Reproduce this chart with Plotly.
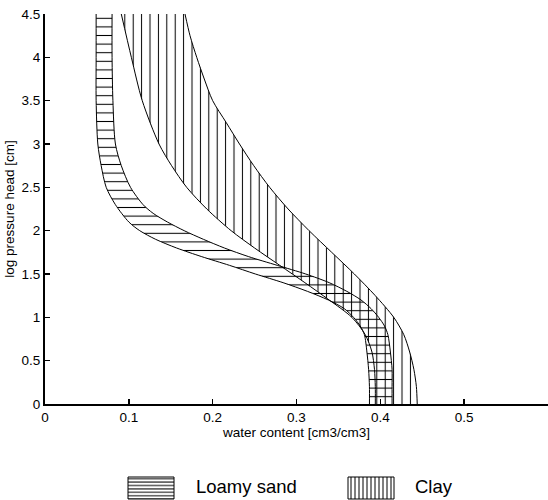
import plotly.graph_objects as go

# ---------------- data ----------------
# Loamy sand band: log pressure head vs water content
ls_left_logh = [4.5, 4.0, 3.5, 3.0, 2.75, 2.5, 2.3, 2.1, 2.0, 1.9, 1.8, 1.7, 1.6,
                1.5, 1.4, 1.3, 1.2, 1.1, 1.0, 0.9, 0.8, 0.6, 0.4, 0.2, 0.0]
ls_left_theta = [0.061, 0.061, 0.061, 0.063, 0.067, 0.073, 0.084, 0.100, 0.113, 0.132,
                 0.157, 0.187, 0.220, 0.251, 0.284, 0.313, 0.338, 0.357, 0.368, 0.376,
                 0.381, 0.384, 0.386, 0.387, 0.387]

ls_right_logh = [4.5, 4.0, 3.5, 3.0, 2.75, 2.5, 2.3, 2.2, 2.1, 2.0, 1.9, 1.8, 1.7,
                 1.6, 1.5, 1.4, 1.3, 1.2, 1.1, 1.0, 0.9, 0.8, 0.6, 0.4, 0.2, 0.0]
ls_right_theta = [0.080, 0.080, 0.081, 0.084, 0.091, 0.102, 0.117, 0.129, 0.146, 0.166,
                  0.189, 0.214, 0.243, 0.277, 0.311, 0.339, 0.360, 0.377, 0.389, 0.398,
                  0.405, 0.409, 0.412, 0.414, 0.414, 0.414]

# Clay band
clay_left_logh = [4.5, 4.0, 3.5, 3.0, 2.75, 2.5, 2.25, 2.0, 1.8, 1.6, 1.4, 1.2,
                  1.0, 0.8, 0.6, 0.4, 0.2, 0.0]
clay_left_theta = [0.091, 0.103, 0.116, 0.136, 0.151, 0.169, 0.193, 0.222, 0.250, 0.280,
                   0.310, 0.339, 0.366, 0.382, 0.390, 0.393, 0.394, 0.394]

clay_right_logh = [4.5, 4.25, 4.0, 3.75, 3.5, 3.25, 3.0, 2.75, 2.5, 2.25, 2.0, 1.75,
                   1.5, 1.25, 1.0, 0.8, 0.6, 0.4, 0.2, 0.0]
clay_right_theta = [0.167, 0.173, 0.181, 0.190, 0.200, 0.216, 0.232, 0.249, 0.268, 0.290,
                    0.315, 0.342, 0.369, 0.394, 0.416, 0.428, 0.435, 0.440, 0.443, 0.444]

x_tickvals = [0, 0.1, 0.2, 0.3, 0.4, 0.5]
x_ticktext = ["0", "0.1", "0.2", "0.3", "0.4", "0.5"]
y_tickvals = [0, 0.5, 1, 1.5, 2, 2.5, 3, 3.5, 4, 4.5]
y_ticktext = ["0", "0.5", "1", "1.5", "2", "2.5", "3", "3.5", "4", "4.5"]

legend_names = ["Loamy sand", "Clay"]

# ---------------- styling ----------------
FONT = "Liberation Sans, Arial, sans-serif"
CLEAR = "rgba(0,0,0,0)"
line_style = dict(color="black", width=1, shape="spline", smoothing=0.8)

def pat(shape, size, solidity):
    return dict(shape=shape, size=size, solidity=solidity, fgcolor="black",
                bgcolor=CLEAR, fillmode="replace")

fig = go.Figure()

# Loamy sand band (horizontal hatch)
fig.add_trace(go.Scatter(x=ls_left_theta, y=ls_left_logh, mode="lines",
                         line=line_style, hoverinfo="skip"))
fig.add_trace(go.Scatter(x=ls_right_theta, y=ls_right_logh, mode="lines",
                         line=line_style, fill="tonextx", fillcolor=CLEAR,
                         fillpattern=pat("-", 8.6, 0.12), hoverinfo="skip"))
# Clay band (vertical hatch)
fig.add_trace(go.Scatter(x=clay_left_theta, y=clay_left_logh, mode="lines",
                         line=line_style, hoverinfo="skip"))
fig.add_trace(go.Scatter(x=clay_right_theta, y=clay_right_logh, mode="lines",
                         line=line_style, fill="tonextx", fillcolor=CLEAR,
                         fillpattern=pat("|", 8.4, 0.12), hoverinfo="skip"))

# ---------------- manual legend (pixel-like coordinates in a helper subplot) ----------------
box_x = [(128, 174), (348, 394)]
box_y = (477, 499)
box_pat = [pat("-", 3.4, 0.3), pat("|", 4.0, 0.25)]
text_x = [194, 413]
for (x0, x1), bp in zip(box_x, box_pat):
    fig.add_trace(go.Scatter(x=[x0, x1, x1, x0, x0],
                             y=[box_y[0], box_y[0], box_y[1], box_y[1], box_y[0]],
                             mode="lines", line=dict(color="black", width=1),
                             fill="toself", fillcolor=CLEAR, fillpattern=bp,
                             xaxis="x2", yaxis="y2", hoverinfo="skip"))
for name, tx in zip(legend_names, text_x):
    fig.add_annotation(x=tx, y=486, xref="x2", yref="y2", text=name, showarrow=False,
                       xanchor="left", yanchor="middle",
                       font=dict(family=FONT, size=18.5, color="black"))

fig.update_layout(
    width=548, height=500,
    margin=dict(l=45, r=0, t=14, b=0, autoexpand=False),
    plot_bgcolor="white", paper_bgcolor="white",
    showlegend=False,
    font=dict(family=FONT, size=13, color="black"),
    xaxis=dict(range=[0, 0.6], tickvals=x_tickvals, ticktext=x_ticktext,
               ticks="inside", ticklen=5, tickwidth=1.5, tickcolor="black",
               showline=True, linecolor="black", linewidth=2, showgrid=False,
               zeroline=False, anchor="y",
               tickfont=dict(family=FONT, size=13.5),
               title=dict(text="water content [cm3/cm3]", standoff=2,
                          font=dict(family=FONT, size=13.5))),
    yaxis=dict(range=[0, 4.5], domain=[96 / 486, 1], tickvals=y_tickvals,
               ticktext=y_ticktext, ticks="inside", ticklen=5, tickwidth=1.5,
               tickcolor="black", showline=True, linecolor="black", linewidth=2,
               showgrid=False, zeroline=False, anchor="x",
               tickfont=dict(family=FONT, size=13.5),
               title=dict(text="log pressure head [cm]", standoff=4,
                          font=dict(family=FONT, size=13.5))),
    xaxis2=dict(domain=[0, 1], range=[45, 548], visible=False, anchor="y2",
                fixedrange=True),
    yaxis2=dict(domain=[0, 40 / 486], range=[500, 460], visible=False, anchor="x2",
                fixedrange=True),
)

fig.write_html("out.html",
               config={"displayModeBar": False, "staticPlot": True},
               post_script="document.body.style.margin='0px';"
                           "document.body.style.overflow='hidden';")
